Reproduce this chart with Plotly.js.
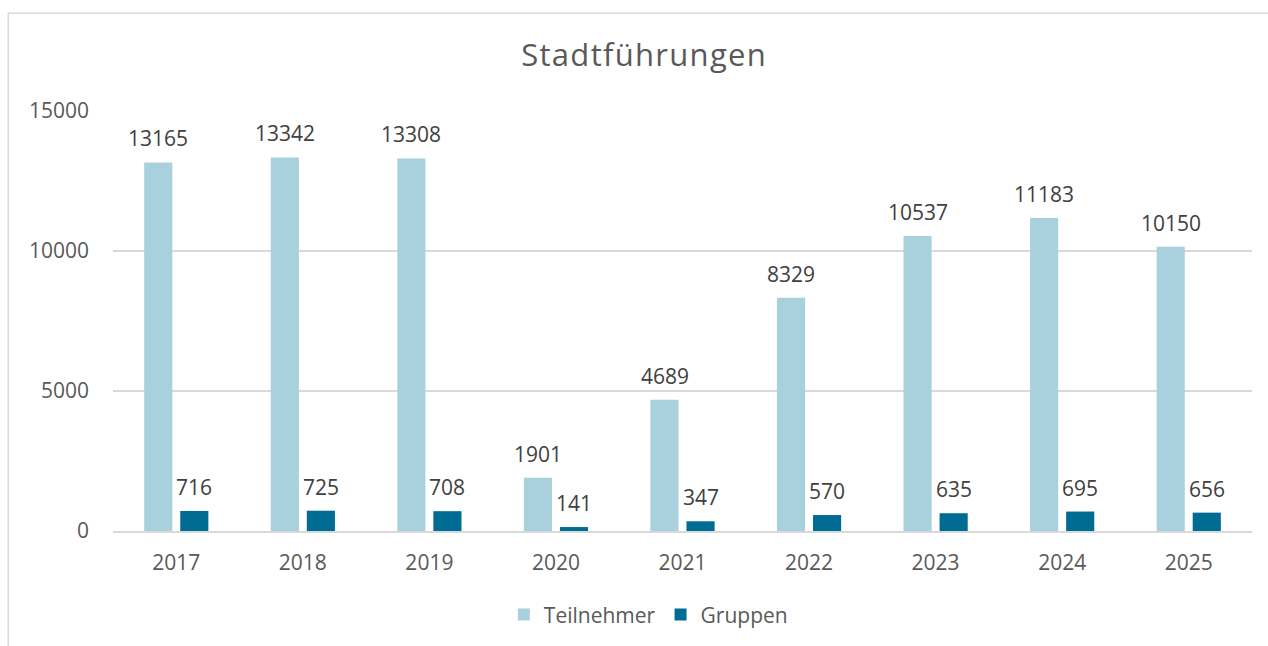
<!DOCTYPE html>
<html>
<head>
<meta charset="utf-8">
<script src="https://cdn.plot.ly/plotly-3.0.1.min.js"></script>
<style>html,body{margin:0;padding:0;background:#fff;}#chart{width:1268px;height:646px;}.gtitle{letter-spacing:1.3px;}</style>
</head>
<body>
<div id="chart"></div>
<script>
const years = ["2017","2018","2019","2020","2021","2022","2023","2024","2025"];
const teilnehmer = [13165, 13342, 13308, 1901, 4689, 8329, 10537, 11183, 10150];
const gruppen = [716, 725, 708, 141, 347, 570, 635, 695, 656];
const yTicks = [0, 5000, 10000, 15000];

const fontFam = "'Open Sans', 'Liberation Sans', sans-serif";
const traces = [
  {type:'bar', name:'Teilnehmer', x:years, y:teilnehmer, marker:{color:'#A9D0DD'}, hoverinfo:'skip'},
  {type:'bar', name:'Gruppen', x:years, y:gruppen, marker:{color:'#006C93'}, hoverinfo:'skip'}
];
function labels(vals, shift) {
  // category axis: annotation x given as category index
  return vals.map((v, i) => ({
    x: i, y: v, xref:'x', yref:'y', text:String(v), showarrow:false,
    xshift: shift, yshift: 24, yanchor:'middle', xanchor:'center',
    font:{size:21, color:'#404040', family:fontFam}
  }));
}
const layout = {
  width:1268, height:646,
  margin:{l:113, r:16, t:111, b:114},
  paper_bgcolor:'#fff', plot_bgcolor:'#fff',
  font:{family:fontFam, color:'#595959', size:22},
  title:{text:'Stadtführungen', font:{size:31, color:'#595959', family:fontFam}, x:0.508, xanchor:'center', y:0.914, yanchor:'middle'},
  barmode:'group', bargap:0.43, bargroupgap:0.22,
  xaxis:{type:'category', range:[-0.5, years.length - 0.5], showline:true, linecolor:'#D9D9D9', linewidth:1.5, ticks:'', tickfont:{size:21,color:'#595959'}, ticklabelstandoff:12},
  yaxis:{range:[0,15000], tickvals:yTicks, ticktext:yTicks.map(String), showgrid:true, gridcolor:'#D9D9D9', gridwidth:1.5, zeroline:false, showline:false, ticks:'', ticklabelstandoff:23, tickfont:{size:21,color:'#595959'}},
  showlegend:true,
  legend:{orientation:'h', x:0.47, xanchor:'center', y:-0.197, yanchor:'middle', font:{size:21, color:'#595959'}, itemwidth:30, traceorder:'normal'},
  annotations: labels(teilnehmer, -18).concat(labels(gruppen, 18)),
  shapes:[{type:'rect', xref:'paper', yref:'paper', x0:-0.092, x1:1.05, y0:-0.5, y1:1.2328, line:{color:'#D9D9D9', width:1.5}, fillcolor:'rgba(0,0,0,0)', layer:'below'}]
};
Plotly.newPlot('chart', traces, layout, {displayModeBar:false, staticPlot:true});
</script>
</body>
</html>
